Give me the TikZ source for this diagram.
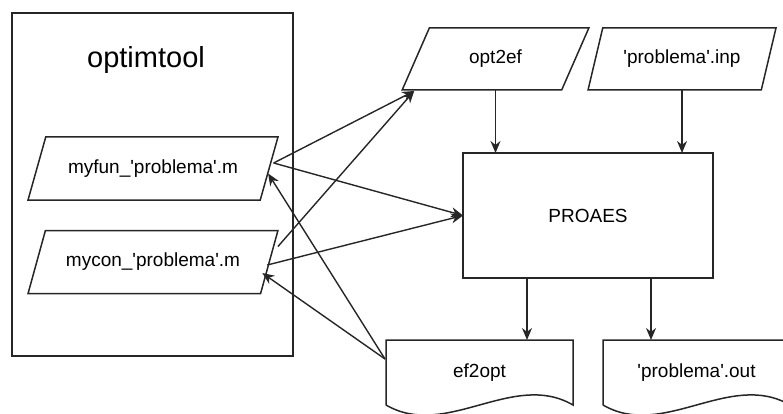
\documentclass[tikz,border=0pt]{standalone}
\usepackage{fontspec}
\setmainfont{Liberation Sans}
\usetikzlibrary{shapes, arrows.meta, positioning, calc}

\newcommand{\pq}{\textquotesingle}

\begin{document}
\begin{tikzpicture}[x=1pt,y=-1pt,
  line/.style={draw=black!85, line width=1.5pt},
  box/.style={line, outer sep=0pt, inner sep=0pt, font=\fontsize{19}{23}\selectfont},
  data/.style={box, trapezium, trapezium stretches=true},
  docu/.style={minimum width=187pt, minimum height=65pt, inner sep=0pt, outer sep=0pt, font=\fontsize{19}{23}\selectfont},
  arr/.style={draw=black!85, line width=1.4pt, -{Stealth[length=12pt,width=10pt]}}]

  % Page
  \useasboundingbox (0,0) rectangle (783,414);

  % optimtool frame
  \node[box, minimum width=281pt, minimum height=343pt] (tool) at (152.5,184.5) {};
  \node[font=\fontsize{29}{35}\selectfont] (title) at (146,60) {optimtool};

  % Data (parallelograms)
  \node[data, trapezium left angle=51.6, trapezium right angle=128.4,
        minimum width=250pt, minimum height=63pt] (myfun) at (153,168.5) {myfun\_\pq problema\pq.m};
  \node[data, trapezium left angle=51.6, trapezium right angle=128.4,
        minimum width=250pt, minimum height=63pt] (mycon) at (153,262) {mycon\_\pq problema\pq.m};
  \node[data, trapezium left angle=58.5, trapezium right angle=121.5,
        minimum width=187pt, minimum height=62pt] (opt2ef) at (495.5,59) {opt2ef};
  \node[data, trapezium left angle=58.5, trapezium right angle=121.5,
        minimum width=188pt, minimum height=62pt] (inp) at (682,59) {\pq problema\pq.inp};

  % Process
  \node[box, minimum width=250pt, minimum height=125pt] (PROAES) at (588,215.5) {PROAES};

  % Documents
  \node[docu] (ef2opt) at (479.5,372.5) {ef2opt};
  \node[docu] (out) at (696.5,372.5) {\pq problema\pq.out};
  \foreach \n in {ef2opt,out}
    \draw[line] (\n.south west) -- (\n.north west) -- (\n.north east) -- (\n.south east)
      .. controls ($(\n.south east)+(-60,-35)$) and ($(\n.south west)+(60,35)$) .. (\n.south west);

  % Connectors
  \coordinate (fo) at ($(myfun.east)+(4.5,-5.5)$);
  \coordinate (ei) at ($(opt2ef.bottom left corner)+(12,1)$);
  \coordinate (eo) at ($(ef2opt.north west)+(-1,19)$);
  \draw[arr] (fo) -- (ei);
  \draw[arr] ($(mycon.top right corner)+(0,16)$) -- (ei);
  \draw[arr] (fo) -- (PROAES.west);
  \draw[arr] ($(mycon.east)+(-2,3)$) -- (PROAES.west);
  \draw[arr] (eo) -- ($(myfun.east)+(-1,5)$);
  \draw[arr] (eo) -- ($(mycon.east)+(-7,11)$);

  \draw[arr] (opt2ef.south) -- (opt2ef.south |- PROAES.north);
  \draw[arr] (inp.south) -- (inp.south |- PROAES.north);
  \coordinate (pl) at ($(PROAES.south)+(-61,0)$);
  \coordinate (pr) at ($(PROAES.south)+(63,0)$);
  \draw[arr] (pl) -- (pl |- ef2opt.north);
  \draw[arr] (pr) -- (pr |- out.north);
\end{tikzpicture}
\end{document}
